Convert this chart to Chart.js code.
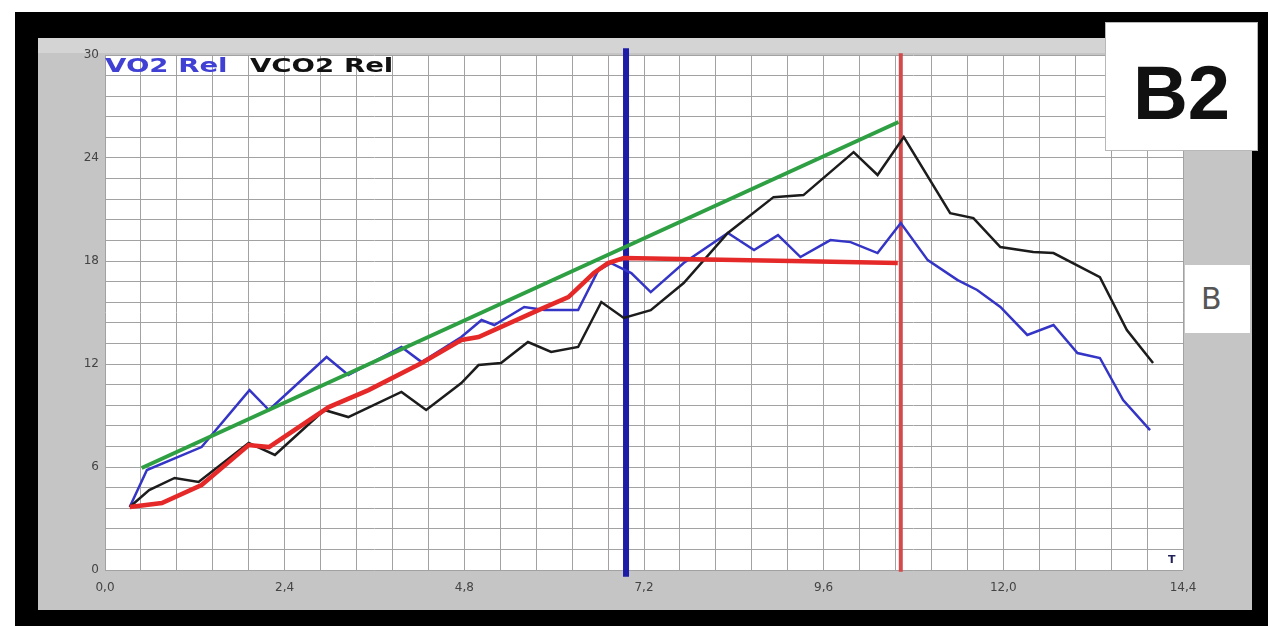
<!DOCTYPE html>
<html>
<head>
<meta charset="utf-8">
<script src="https://cdn.jsdelivr.net/npm/chart.js@4.4.0/dist/chart.umd.min.js"></script>
<style>
  body { margin: 0; background: #fff; width: 1268px; height: 626px; overflow: hidden; position: relative; font-family: "DejaVu Sans", sans-serif; }
  #frame { position: absolute; left: 15px; top: 12px; width: 1253px; height: 614px; background: #000; }
  #panel { position: absolute; left: 38px; top: 38px; width: 1214px; height: 572px; background: #c5c5c5; border-top: 15px solid #d4d4d4; box-sizing: border-box; }
  #wrap { position: absolute; left: 0; top: 0; width: 1268px; height: 626px; }
  .leg { position: absolute; top: 53px; font: bold 20px "DejaVu Sans", sans-serif; transform: scaleX(1.38); transform-origin: left top; white-space: nowrap; }
  #b2 { position: absolute; left: 1105px; top: 22px; width: 151px; height: 127px; background: #fff; border: 1px solid #b8b8b8;
        font: bold 76px "Liberation Sans", Arial, sans-serif; color: #111; text-align: center; line-height: 140px; }
  #b { position: absolute; left: 1185px; top: 265px; width: 65px; height: 68px; background: #fff;
       font: 30px "DejaVu Sans", sans-serif; color: #555; line-height: 68px; padding-left: 16px; box-sizing: border-box; }
  #tmark { position: absolute; left: 1168px; top: 553px; font: bold 11px "DejaVu Sans", sans-serif; color: #22225a; }
</style>
</head>
<body>
<div id="frame"></div>
<div id="panel"></div>
<div id="wrap"><canvas id="chart" width="1268" height="626"></canvas></div>
<div class="leg" style="left:105px;color:#4040d4">VO2 Rel</div>
<div class="leg" style="left:250px;color:#111">VCO2 Rel</div>
<div id="b2">B2</div>
<div id="b">B</div>
<div id="tmark">T</div>
<script>
// DATA
const vo2X = [0.33, 0.56, 1.29, 1.93, 2.19, 2.96, 3.25, 3.96, 4.23, 4.76, 5.03, 5.2, 5.6, 5.87, 6.32, 6.59, 6.76, 7.03, 7.29, 7.73, 8.32, 8.67, 8.99, 9.29, 9.69, 9.96, 10.32, 10.63, 10.99, 11.39, 11.65, 11.96, 12.32, 12.67, 12.99, 13.29, 13.6, 13.96];
const vo2Y = [3.67, 5.82, 7.16, 10.48, 9.32, 12.41, 11.36, 12.99, 12.11, 13.57, 14.56, 14.27, 15.32, 15.14, 15.14, 17.47, 17.88, 17.3, 16.19, 17.88, 19.63, 18.64, 19.51, 18.23, 19.22, 19.1, 18.46, 20.21, 18.05, 16.89, 16.31, 15.32, 13.69, 14.27, 12.64, 12.35, 9.9, 8.15];

const vco2X = [0.33, 0.59, 0.93, 1.25, 1.92, 2.27, 2.93, 3.25, 3.96, 4.29, 4.76, 4.99, 5.29, 5.65, 5.96, 6.32, 6.63, 6.93, 7.29, 7.73, 8.32, 8.93, 9.33, 10.0, 10.32, 10.67, 11.29, 11.6, 11.96, 12.4, 12.67, 13.29, 13.65, 14.0];
const vco2Y = [3.67, 4.66, 5.36, 5.13, 7.4, 6.7, 9.32, 8.91, 10.37, 9.32, 10.89, 11.94, 12.06, 13.28, 12.7, 12.99, 15.61, 14.68, 15.14, 16.72, 19.63, 21.72, 21.84, 24.34, 23.01, 25.22, 20.79, 20.5, 18.81, 18.52, 18.46, 17.06, 13.98, 12.06];

// red fitted curve with plateau
const fitX = [0.33, 0.76, 1.29, 1.92, 2.19, 2.99, 3.52, 4.23, 4.76, 4.99, 5.79, 6.19, 6.53, 6.72, 6.93, 9.36, 10.59];
const fitY = [3.67, 3.9, 4.95, 7.28, 7.16, 9.49, 10.48, 12.06, 13.4, 13.57, 15.14, 15.9, 17.3, 17.88, 18.17, 17.99, 17.88];

// green slope line
const slopeX = [0.49, 10.6];
const slopeY = [5.94, 26.1];

// vertical threshold markers
const vt1X = 6.96, vt2X = 10.63;
const vt1Y = [30.4, -0.4];
const vt2Y = [30.1, -0.1];

const xTickLabels = ['0,0', '2,4', '4,8', '7,2', '9,6', '12,0', '14,4'];
const yTickLabels = ['0', '6', '12', '18', '24', '30'];

function pts(xs, ys) {
  return xs.map((x, i) => ({ x: x, y: ys[i] }));
}

const plotBg = {
  id: 'plotBg',
  beforeDraw(chart) {
    const { ctx, chartArea: a } = chart;
    ctx.save();
    ctx.fillStyle = '#fff';
    ctx.fillRect(a.left, a.top, a.right - a.left, a.bottom - a.top);
    ctx.restore();
  }
};

const ctx = document.getElementById('chart').getContext('2d');
const gridColor = '#a2a2a2';

new Chart(ctx, {
  type: 'scatter',
  data: {
    datasets: [
      { label: 'slope', data: pts(slopeX, slopeY), showLine: true, borderColor: '#2ea043', borderWidth: 4, pointRadius: 0 },
      { label: 'fit', data: pts(fitX, fitY), showLine: true, borderColor: '#e52828', borderWidth: 4.5, pointRadius: 0 },
      { label: 'VCO2 Rel', data: pts(vco2X, vco2Y), showLine: true, borderColor: '#1c1c1c', borderWidth: 2.5, pointRadius: 0 },
      { label: 'VO2 Rel', data: pts(vo2X, vo2Y), showLine: true, borderColor: '#3434c6', borderWidth: 2.5, pointRadius: 0 },
      { label: 'VT2', data: pts([vt2X, vt2X], vt2Y), showLine: true, borderColor: '#d24a4a', borderWidth: 4, pointRadius: 0, clip: false },
      { label: 'VT1', data: pts([vt1X, vt1X], vt1Y), showLine: true, borderColor: '#1c1ca6', borderWidth: 6, pointRadius: 0, clip: false }
    ]
  },
  options: {
    responsive: false,
    animation: false,
    devicePixelRatio: 1,
    layout: { padding: { top: 55, right: 85, left: 0, bottom: 0 } },
    plugins: { legend: { display: false }, tooltip: { enabled: false } },
    scales: {
      x: {
        type: 'linear',
        min: 0,
        max: 14.4,
        afterBuildTicks: s => {
          s.ticks = [];
          for (let i = 0; i <= 30; i++) s.ticks.push({ value: +(i * 0.48).toFixed(2) });
        },
        afterFit: s => { s.height = 56; },
        ticks: {
          autoSkip: false,
          maxRotation: 0,
          padding: 11,
          color: '#444',
          font: { family: 'DejaVu Sans', size: 12 },
          callback: (v, i) => (i % 5 === 0 ? xTickLabels[i / 5] : '')
        },
        grid: { color: gridColor, lineWidth: 1, drawTicks: false },
        border: { display: false }
      },
      y: {
        type: 'linear',
        min: 0,
        max: 30,
        afterBuildTicks: s => {
          s.ticks = [];
          for (let i = 0; i <= 25; i++) s.ticks.push({ value: +(i * 1.2).toFixed(2) });
        },
        afterFit: s => { s.width = 105; },
        ticks: {
          autoSkip: false,
          padding: 6,
          color: '#444',
          font: { family: 'DejaVu Sans', size: 12 },
          callback: (v, i) => (i % 5 === 0 ? yTickLabels[i / 5] : '')
        },
        grid: { color: gridColor, lineWidth: 1, drawTicks: false },
        border: { display: false }
      }
    }
  },
  plugins: [plotBg]
});
</script>
</body>
</html>
